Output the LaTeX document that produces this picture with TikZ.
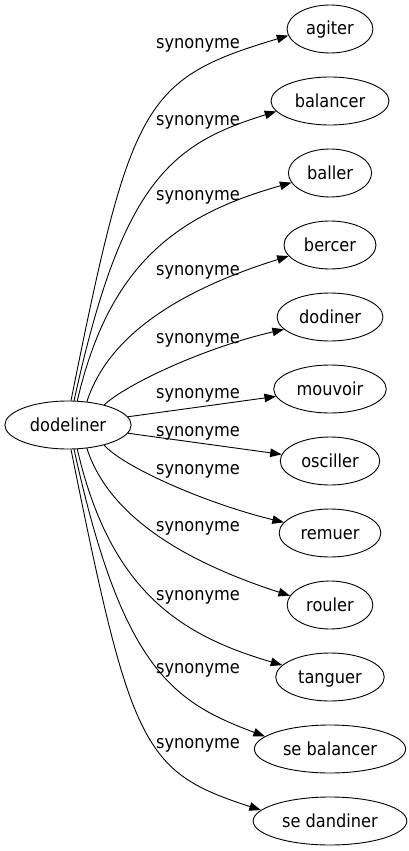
\documentclass[tikz,border=0pt]{standalone}
\usepackage{fontspec}
\setmainfont{DejaVu Sans Condensed}
\usetikzlibrary{arrows.meta,shapes.geometric}
\tikzset{>={Triangle[length=11.5pt,width=8.5pt]}}
\tikzset{
  word/.style={ellipse, draw, line width=0.9pt, minimum height=48pt, inner xsep=6.5pt, inner ysep=1pt,
    text height=13pt, text depth=1pt, font=\fontsize{18}{21}\selectfont},
  rel/.style={anchor=base, inner sep=0pt, font=\fontsize{18}{21}\selectfont},
  syn/.style={->, line width=0.9pt}
}

\begin{document}
\begin{tikzpicture}[x=1pt,y=-1pt]
  \fill[white] (0,0) rectangle (409,851);
  \useasboundingbox (0,0) rectangle (409,851);
  % head word
  \node[word] (dodeliner) at (68,425) {dodeliner};
  % synonyms
  \node[word] (agiter) at (330,29) {agiter};
  \node[word] (balancer) at (330,101) {balancer};
  \node[word] (baller) at (330,173) {baller};
  \node[word] (bercer) at (330,245) {bercer};
  \node[word] (dodiner) at (330,317) {dodiner};
  \node[word] (mouvoir) at (330,389) {mouvoir};
  \node[word] (osciller) at (330,461) {osciller};
  \node[word] (remuer) at (330,533) {remuer};
  \node[word] (rouler) at (330,605) {rouler};
  \node[word] (tanguer) at (330,677) {tanguer};
  \node[word] (sebalancer) at (330,749) {se balancer};
  \node[word] (sedandiner) at (330,821) {se dandiner};
  % relation labels
  \node[rel] (syn1) at (198,48.3) {synonyme};
  \node[rel] (syn2) at (198,125) {synonyme};
  \node[rel] (syn3) at (198,200) {synonyme};
  \node[rel] (syn4) at (198,275) {synonyme};
  \node[rel] (syn5) at (198,343) {synonyme};
  \node[rel] (syn6) at (198,398) {synonyme};
  \node[rel] (syn7) at (198,436) {synonyme};
  \node[rel] (syn8) at (198,474.5) {synonyme};
  \node[rel] (syn9) at (198,531) {synonyme};
  \node[rel] (syn10) at (198,600.5) {synonyme};
  \node[rel] (syn11) at (198,673) {synonyme};
  \node[rel] (syn12) at (198,748) {synonyme};
  % edges
  \draw[syn] (dodeliner.83) .. controls (131,102) and (143,79) .. (agiter.189);
  \draw[syn] (dodeliner.76) .. controls (122,181) and (171,144) .. (balancer.191);
  \draw[syn] (dodeliner.69) .. controls (110,260) and (181,214) .. (baller.194);
  \draw[syn] (dodeliner.51) .. controls (110,330) and (190,287) .. (bercer.195);
  \draw[syn] (dodeliner.29) .. controls (125,385) and (203,348) .. (dodiner.195);
  \draw[syn] (dodeliner) -- (mouvoir);
  \draw[syn] (dodeliner) -- (osciller);
  \draw[syn] (dodeliner.-29) .. controls (122,466) and (204,503) .. (remuer.167);
  \draw[syn] (dodeliner.-51) .. controls (110,520) and (192,564) .. (rouler.167);
  \draw[syn] (dodeliner.-69) .. controls (110,590) and (179,635) .. (tanguer.166);
  \draw[syn] (dodeliner.-76) .. controls (122,669) and (173,702) .. (sebalancer.169);
  \draw[syn] (dodeliner.-83) .. controls (131,748) and (143,772) .. (sedandiner.171);
\end{tikzpicture}
\end{document}
